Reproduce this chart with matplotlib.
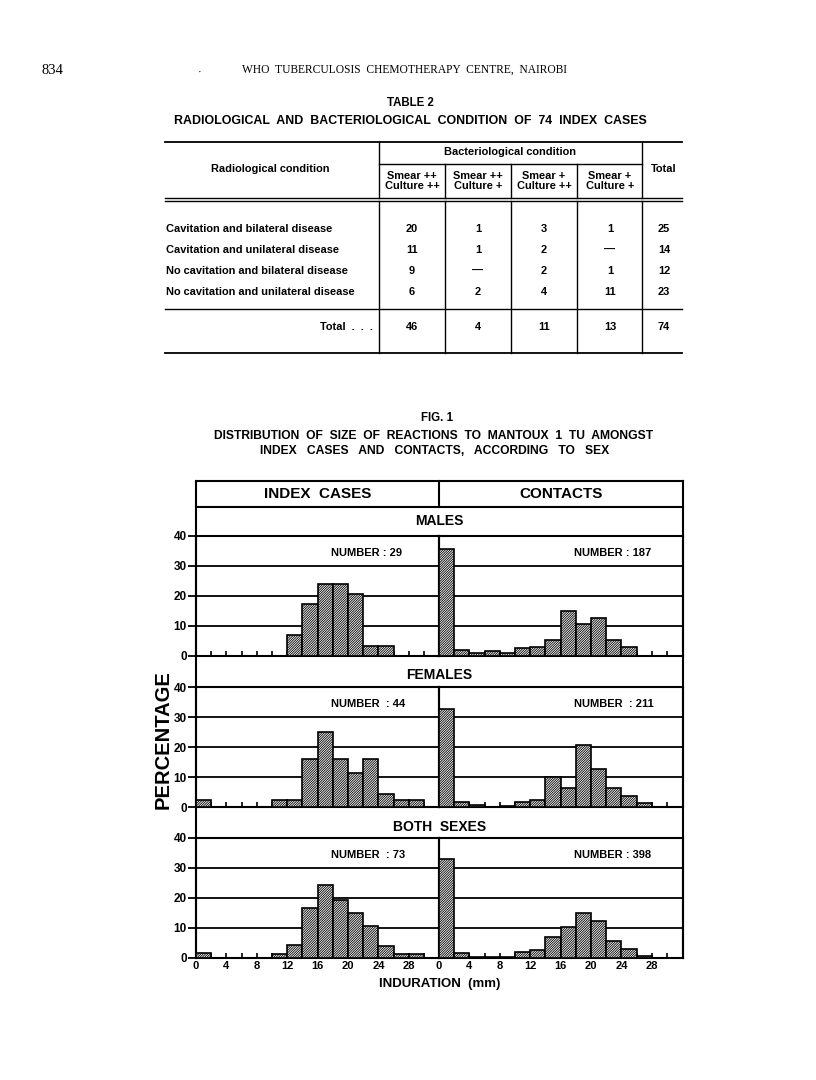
import matplotlib
matplotlib.use("Agg")
import matplotlib.pyplot as plt

plt.rcParams['font.family'] = ['Liberation Sans', 'DejaVu Sans']
plt.rcParams['hatch.linewidth'] = 0.6
plt.rcParams['hatch.color'] = 'black'

# ---------------- data ----------------
table_row_labels = ["Cavitation and bilateral disease",
                    "Cavitation and unilateral disease",
                    "No cavitation and bilateral disease",
                    "No cavitation and unilateral disease"]
table_col_headers = ["Smear ++\nCulture ++", "Smear ++\nCulture +",
                     "Smear +\nCulture ++", "Smear +\nCulture +"]
table_values = [["20", "1", "3", "1"],
                ["11", "1", "2", "—"],
                ["9", "—", "2", "1"],
                ["6", "2", "4", "11"]]
table_row_totals = ["25", "14", "12", "23"]
table_col_totals = ["46", "4", "11", "13"]
table_grand_total = "74"

bin_left = [0, 2, 4, 6, 8, 10, 12, 14, 16, 18, 20, 22, 24, 26, 28]
bin_edges = [0, 2, 4, 6, 8, 10, 12, 14, 16, 18, 20, 22, 24, 26, 28, 30]
x_tick_values = [0, 4, 8, 12, 16, 20, 24, 28]
y_tick_values = [0, 10, 20, 30, 40]

index_males = [0, 0, 0, 0, 0, 0, 6.9, 17.2, 24.1, 24.1, 20.7, 3.4, 3.4, 0, 0]
contacts_males = [35.8, 1.9, 1.1, 1.6, 0.9, 2.7, 3.1, 5.2, 15.1, 10.7, 12.7, 5.2, 3.0, 0, 0]
index_females = [2.3, 0, 0, 0, 0, 2.3, 2.3, 15.9, 25.0, 15.9, 11.4, 15.9, 4.5, 2.3, 2.3]
contacts_females = [32.6, 1.6, 0.7, 0, 0.5, 1.6, 2.2, 10.0, 6.4, 20.6, 12.6, 6.4, 3.7, 1.3, 0]
index_both = [1.6, 0, 0, 0, 0, 1.5, 4.2, 16.6, 24.4, 19.2, 14.9, 10.8, 4.0, 1.4, 1.4]
contacts_both = [33.1, 1.7, 0.3, 0.3, 0.3, 1.9, 2.6, 7.0, 10.3, 15.1, 12.2, 5.6, 3.1, 0.8, 0]

panel_rows = ["MALES", "FEMALES", "BOTH  SEXES"]
panel_cols = ["INDEX  CASES", "CONTACTS"]
panel_values = [[index_males, contacts_males],
                [index_females, contacts_females],
                [index_both, contacts_both]]
number_labels = [["NUMBER : 29", "NUMBER : 187"],
                 ["NUMBER  : 44", "NUMBER  : 211"],
                 ["NUMBER  : 73", "NUMBER : 398"]]

# ---------------- figure ----------------
W, H = 816, 1080
fig = plt.figure(figsize=(W / 100, H / 100), dpi=100)
fig.patch.set_facecolor('white')

bg = fig.add_axes([0, 0, 1, 1])
bg.set_xlim(0, W)
bg.set_ylim(H, 0)
bg.axis('off')

serif = ['Liberation Serif', 'DejaVu Serif']

# page header
bg.text(52, 70, "834", fontsize=10.5, family=serif, ha='center', va='center')
bg.text(200, 72, "·", fontsize=8, family=serif, ha='center', va='center')
bg.text(405, 70, "WHO  TUBERCULOSIS  CHEMOTHERAPY  CENTRE,  NAIROBI",
        fontsize=8.3, family=serif, ha='center', va='center')

# table title
bg.text(410, 103, "TABLE 2", fontsize=8.3, weight='bold', ha='center', va='center')
bg.text(410, 121, "RADIOLOGICAL  AND  BACTERIOLOGICAL  CONDITION  OF  74  INDEX  CASES",
        fontsize=8.9, weight='bold', ha='center', va='center')

# table geometry
TL, TR = 165, 682
vx = [379, 445, 511, 577, 642]
col_centers = [412, 478, 544, 610, 664]
lw_t = 1.0
bg.plot([TL, TR], [141.5, 141.5], color='black', lw=1.3)
bg.plot([vx[0], vx[-1]], [164, 164], color='black', lw=lw_t)
bg.plot([TL, TR], [198, 198], color='black', lw=lw_t)
bg.plot([TL, TR], [200.5, 200.5], color='black', lw=lw_t)
bg.plot([TL, TR], [309, 309], color='black', lw=lw_t)
bg.plot([TL, TR], [353, 353], color='black', lw=1.3)
for i, x in enumerate(vx):
    top = 141.5 if i in (0, len(vx) - 1) else 164
    bg.plot([x, x], [top, 198], color='black', lw=lw_t)
    bg.plot([x, x], [200.5, 353], color='black', lw=lw_t)

tfs = 7.9
bg.text(270, 169, "Radiological condition", fontsize=tfs, weight='bold', ha='center', va='center')
bg.text((vx[0] + vx[-1]) / 2, 152, "Bacteriological condition", fontsize=tfs, weight='bold',
        ha='center', va='center')
bg.text(col_centers[4], 169, "Total", fontsize=tfs, weight='bold', ha='center', va='center')
for j, hdr in enumerate(table_col_headers):
    bg.text(col_centers[j], 181, hdr, fontsize=tfs, weight='bold', ha='center', va='center',
            linespacing=0.95)
row_y = [228.5, 250, 271, 292]
for i, lab in enumerate(table_row_labels):
    bg.text(166, row_y[i], lab, fontsize=tfs, weight='bold', ha='left', va='center')
    for j, v in enumerate(table_values[i]):
        bg.text(col_centers[j], row_y[i], v, fontsize=tfs, weight='bold', ha='center', va='center')
    bg.text(col_centers[4], row_y[i], table_row_totals[i], fontsize=tfs, weight='bold',
            ha='center', va='center')
bg.text(373, 327, "Total  .  .  .", fontsize=tfs, weight='bold', ha='right', va='center')
for j, v in enumerate(table_col_totals):
    bg.text(col_centers[j], 327, v, fontsize=tfs, weight='bold', ha='center', va='center')
bg.text(col_centers[4], 327, table_grand_total, fontsize=tfs, weight='bold', ha='center', va='center')

# figure title
bg.text(437, 418, "FIG. 1", fontsize=8.3, weight='bold', ha='center', va='center')
bg.text(434, 436, "DISTRIBUTION  OF  SIZE  OF  REACTIONS  TO  MANTOUX  1  TU  AMONGST",
        fontsize=8.7, weight='bold', ha='center', va='center')
bg.text(435, 451, "INDEX   CASES   AND   CONTACTS,   ACCORDING   TO   SEX",
        fontsize=8.7, weight='bold', ha='center', va='center')

# histogram frame
X_L, X_M, X_R = 196, 439, 683
HDR_T, HDR_B = 481, 507
row_bounds = [(536, 656), (687, 807), (838, 958)]
title_centers = [521, 675, 827]
flw = 1.5
bg.plot([X_L, X_R], [HDR_T, HDR_T], color='black', lw=flw)
bg.plot([X_L, X_R], [HDR_B, HDR_B], color='black', lw=flw)
bg.plot([X_L, X_L], [HDR_T, row_bounds[-1][1]], color='black', lw=flw)
bg.plot([X_R, X_R], [HDR_T, row_bounds[-1][1]], color='black', lw=flw)
bg.plot([X_M, X_M], [HDR_T, HDR_B], color='black', lw=flw)
bg.text((X_L + X_M) / 2, 494.5, panel_cols[0], fontsize=11, weight='bold', ha='center', va='center')
bg.text((X_M + X_R) / 2, 494.5, panel_cols[1], fontsize=11, weight='bold', ha='center', va='center')
for r, name in enumerate(panel_rows):
    bg.text((X_L + X_R) / 2, title_centers[r], name, fontsize=10, weight='bold',
            ha='center', va='center')

bg.text(163, 740, "PERCENTAGE", fontsize=14.5, weight='bold', rotation=90, ha='center', va='center')
bg.text(440, 984, "INDURATION  (mm)", fontsize=9.5, weight='bold', ha='center', va='center')

col_bounds = [(X_L, X_M), (X_M, X_R)]
px_per_mm = 7.6
for r in range(3):
    y0, y1 = row_bounds[r]
    for c in range(2):
        x0, x1 = col_bounds[c]
        ax = fig.add_axes([x0 / W, 1 - y1 / H, (x1 - x0) / W, (y1 - y0) / H])
        ax.set_facecolor('none')
        ax.bar(bin_left, panel_values[r][c], width=2, align='edge', facecolor='white',
               edgecolor='black', hatch='/' * 14, lw=1.2, zorder=3)
        ax.set_xlim(0, (x1 - x0) / px_per_mm)
        ax.set_ylim(0, 40)
        for s in ax.spines.values():
            s.set_linewidth(flw)
        ax.set_yticks(y_tick_values)
        ax.grid(axis='y', color='black', lw=1.3, zorder=0)
        ax.set_axisbelow(True)
        if c == 0:
            ax.tick_params(axis='y', direction='out', length=6, width=1.3, pad=0.5,
                           labelsize=8.5)
            for lab in ax.get_yticklabels():
                lab.set_fontweight('bold')
        else:
            ax.tick_params(axis='y', left=False, labelleft=False)
        ax.set_xticks(x_tick_values)
        ax.set_xticks([e for e in bin_edges if e not in x_tick_values], minor=True)
        ax.tick_params(axis='x', which='both', direction='in', length=3.5, width=1.2,
                       labelsize=8, pad=2)
        if r == 2:
            ax.set_xticklabels([str(v) for v in x_tick_values])
            for lab in ax.get_xticklabels():
                lab.set_fontweight('bold')
        else:
            ax.tick_params(axis='x', labelbottom=False)
        ax.text(0.555, 0.86, number_labels[r][c], transform=ax.transAxes, fontsize=8,
                weight='bold', ha='left', va='center')

fig.savefig("out.png", dpi=100, facecolor='white')
